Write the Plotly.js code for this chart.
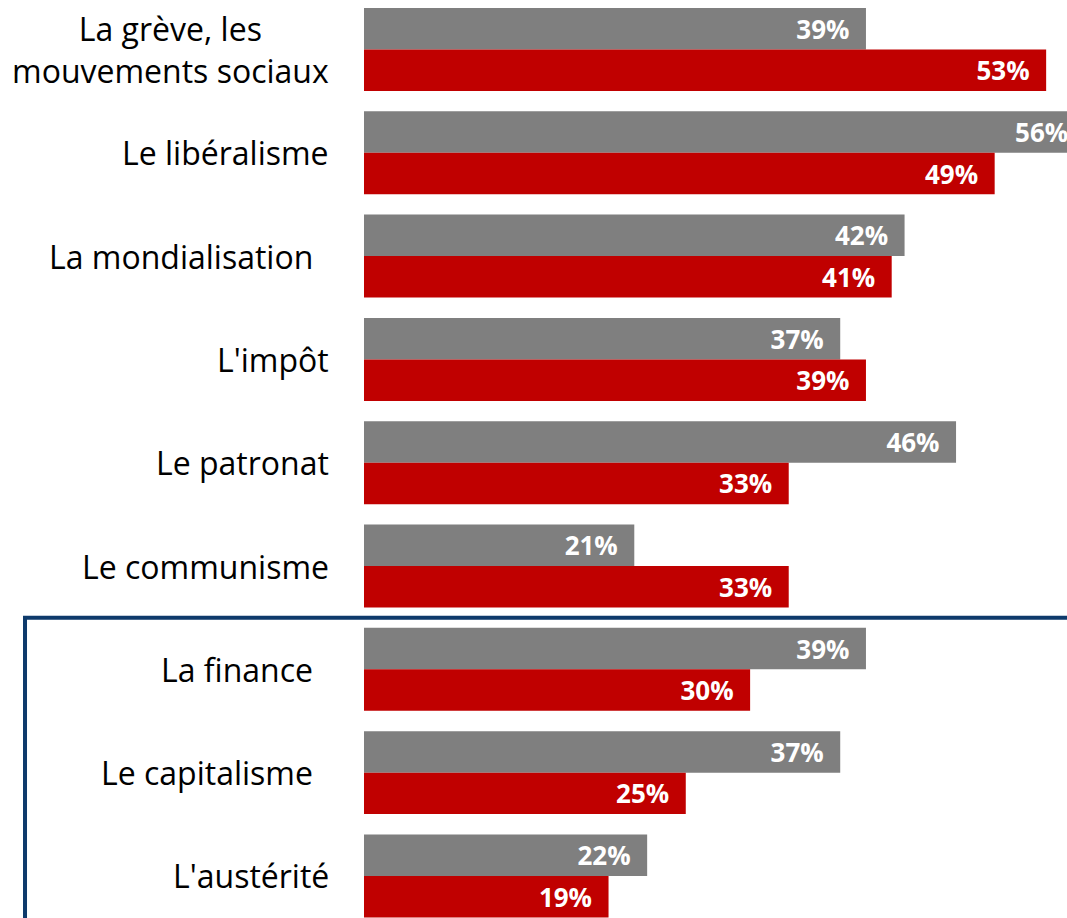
<!DOCTYPE html>
<html><head><meta charset="utf-8">
<script src="https://cdn.plot.ly/plotly-3.0.1.min.js"></script>
<style>html,body{margin:0;padding:0;background:#fff}#chart{width:1067px;height:918px}</style>
</head><body><div id="chart"></div>
<script>
const categories = [
  "La grève, les<br>mouvements sociaux",
  "Le libéralisme",
  "La mondialisation",
  "L'impôt",
  "Le patronat",
  "Le communisme",
  "La finance",
  "Le capitalisme",
  "L'austérité"
];
const labelPad = [0, 0, 16, 0, 0, 0, 16, 16, 0];
const greyValues = [39, 56, 42, 37, 46, 21, 39, 37, 22];
const redValues  = [53, 49, 41, 39, 33, 33, 30, 25, 19];

const FONT = "'Open Sans', Lato, sans-serif";
const PADTXT = '\u00a0\u00a0';

function barTrace(vals, color) {
  return {type:'bar', orientation:'h', y:categories, x:vals,
    marker:{color:color, line:{width:0}},
    text:vals.map(v => v + '%' + PADTXT),
    textposition:'inside', insidetextanchor:'end', constraintext:'none',
    textfont:{family:FONT, size:26, color:'#fff', weight:'bold'},
    cliponaxis:true, hoverinfo:'skip', showlegend:false};
}
const traces = [barTrace(greyValues, '#7F7F7F'), barTrace(redValues, '#C00000')];

const annotations = categories.map((c, i) => ({
  xref:'paper', yref:'y', x:0, y:c, text:c, xanchor:'right', yanchor:'middle', align:'center',
  xshift:-33 - labelPad[i], showarrow:false, font:{family:FONT, size:32, color:'#000'}
}));

const layout = {
  width:1067, height:918,
  margin:{l:364, r:0, t:0, b:0, pad:0},
  paper_bgcolor:'#fff', plot_bgcolor:'#fff',
  barmode:'group', bargap:0.197, bargroupgap:0,
  xaxis:{range:[0, 54.62], visible:false, fixedrange:true},
  yaxis:{type:'category', range:[8.407, -0.479], showticklabels:false, showgrid:false, zeroline:false, showline:false, ticks:'', fixedrange:true},
  annotations:annotations,
  shapes:[{type:'rect', xref:'paper', yref:'y', x0:-0.4822, x1:1.2, y0:5.5, y1:9.5, line:{color:'#0E3A6B', width:4}, fillcolor:'rgba(0,0,0,0)', layer:'above'}],
  font:{family:FONT}
};
Plotly.newPlot('chart', traces, layout, {staticPlot:true, displayModeBar:false});
</script></body></html>
